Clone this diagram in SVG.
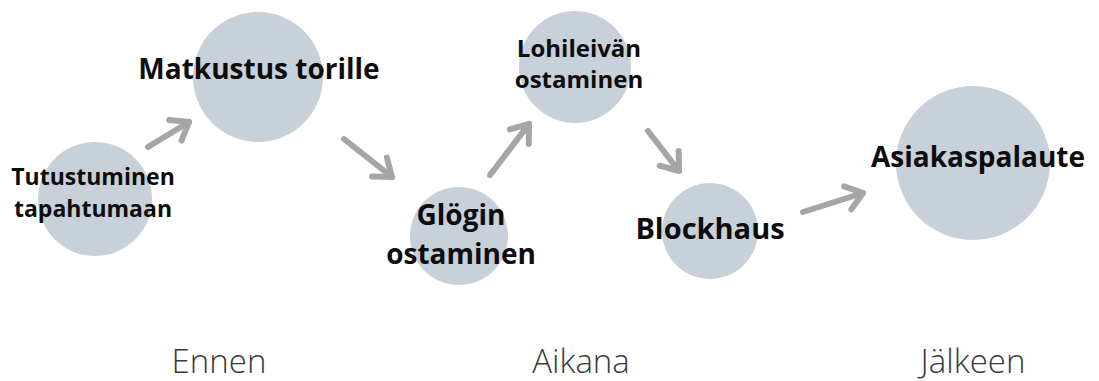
<svg xmlns="http://www.w3.org/2000/svg" width="1099" height="381" viewBox="0 0 1099 381">
<style>
.c{fill:#c8d0da}
.t{font-family:"Open Sans","Liberation Sans",sans-serif;font-weight:700;fill:#0d0d0d;text-anchor:middle}
.p{font-family:"Open Sans","Liberation Sans",sans-serif;font-weight:300;fill:#3a3a3a;text-anchor:middle;font-size:33px}
.a{fill:none;stroke:#a6a6a6;stroke-width:6;stroke-linecap:round;stroke-linejoin:round}
</style>
<defs>
<marker id="h" markerUnits="userSpaceOnUse" viewBox="-25 -16 30 32" markerWidth="30" markerHeight="32" refX="0" refY="0" orient="auto" overflow="visible">
<path d="M-16,-12 L0,0 L-16,12" fill="none" stroke="#a6a6a6" stroke-width="6" stroke-linecap="round" stroke-linejoin="round"/>
</marker>
</defs>
<rect width="1099" height="381" fill="#ffffff"/>
<g id="connectors">
<path class="a" d="M148,147 L189,122" marker-end="url(#h)"/>
<path class="a" d="M344,139 L392,177" marker-end="url(#h)"/>
<path class="a" d="M490,175 L529,124" marker-end="url(#h)"/>
<path class="a" d="M648,131 L679,171" marker-end="url(#h)"/>
<path class="a" d="M803,212 L863,193" marker-end="url(#h)"/>
</g>
<g id="n1">
<circle class="c" cx="95" cy="199" r="57"/>
<text class="t" x="93" y="185" font-size="23">Tutustuminen</text>
<text class="t" x="93" y="217" font-size="23">tapahtumaan</text>
</g>
<g id="n2">
<circle class="c" cx="258" cy="77" r="65"/>
<text class="t" x="259" y="79" font-size="28">Matkustus torille</text>
</g>
<g id="n3">
<circle class="c" cx="459" cy="236" r="49"/>
<text class="t" x="461" y="225" font-size="28">Glögin</text>
<text class="t" x="461" y="264" font-size="28">ostaminen</text>
</g>
<g id="n4">
<circle class="c" cx="575" cy="67" r="56"/>
<text class="t" x="579" y="57" font-size="24">Lohileivän</text>
<text class="t" x="579" y="88" font-size="24">ostaminen</text>
</g>
<g id="n5">
<circle class="c" cx="710" cy="231" r="48"/>
<text class="t" x="710" y="239" font-size="29">Blockhaus</text>
</g>
<g id="n6">
<circle class="c" cx="973" cy="163" r="77"/>
<text class="t" x="978" y="167" font-size="28">Asiakaspalaute</text>
</g>
<g id="phases">
<text class="p" x="219" y="373">Ennen</text>
<text class="p" x="581" y="373">Aikana</text>
<text class="p" x="973" y="373">Jälkeen</text>
</g>
</svg>
